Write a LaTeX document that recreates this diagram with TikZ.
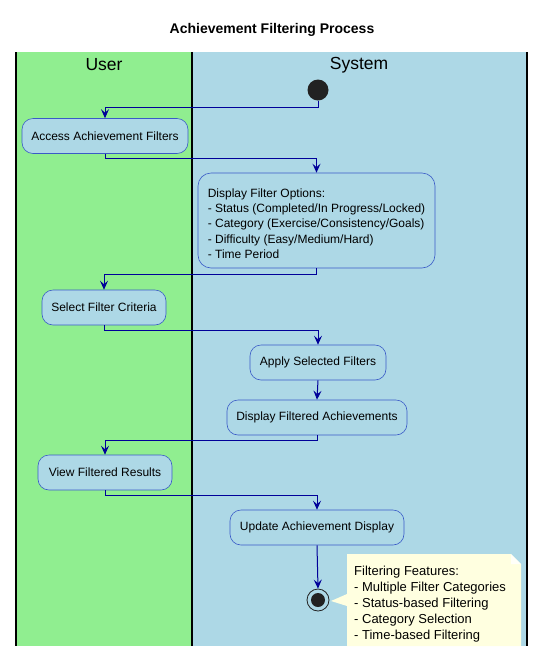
\documentclass[tikz,border=0pt]{standalone}
\usepackage{fontspec}
\setmainfont{Liberation Sans}
\usetikzlibrary{arrows.meta,calc}
\definecolor{userlane}{HTML}{90EE90}
\definecolor{syslane}{HTML}{ADD8E6}
\definecolor{boxborder}{HTML}{3A5BC7}
\definecolor{arrowcol}{HTML}{000099}
\definecolor{notefill}{HTML}{FFFFE0}
\definecolor{dotcol}{HTML}{222222}
\tikzset{
  act/.style={draw=boxborder, fill=syslane, rounded corners=11pt, minimum height=35pt,
    inner sep=0pt, font=\fontsize{12}{14}\selectfont, line width=0.6pt},
  arr/.style={draw=arrowcol, line width=1pt, -{Stealth[length=9pt,width=8pt,inset=3.5pt]}},
  lanehead/.style={font=\fontsize{17.5}{20}\selectfont},
  laneline/.style={line width=1.2pt, draw=black},
}
\begin{document}
\begin{tikzpicture}[x=1pt,y=-1pt]
\useasboundingbox (0,0) rectangle (544,657);
% lanes
\fill[userlane] (16,52) rectangle (192,646);
\fill[syslane] (192,52) rectangle (527,646);
\draw[laneline] (16,52) -- (16,646);
\draw[laneline] (192,52) -- (192,646);
\draw[laneline] (527,52) -- (527,646);
% title
\node[font=\bfseries\fontsize{14}{16}\selectfont] (title) at (272,30) {Achievement Filtering Process};
\node[lanehead] (userh) at (104,65) {User};
\node[lanehead] (sysh) at (359,65) {System};
% start
\node[circle, fill=dotcol, minimum size=21pt, inner sep=0pt] (start) at (318,90) {};
% activities
\node[act, minimum width=166pt] (access) at (105,136) {Access Achievement Filters};
\node[act, minimum width=237pt, minimum height=95pt, align=left, rounded corners=13pt,
  font=\fontsize{12}{15.3}\selectfont] (options) at (316.5,220.5)
  {\rule{0pt}{15pt}Display Filter Options:\\
   - Status (Completed/In Progress/Locked)\\
   - Category (Exercise/Consistency/Goals)\\
   - Difficulty (Easy/Medium/Hard)\\
   - Time Period};
\node[act, minimum width=124pt] (select) at (104,307.5) {Select Filter Criteria};
\node[act, minimum width=136pt] (apply) at (318,362.5) {Apply Selected Filters};
\node[act, minimum width=180pt] (dispfilt) at (317,417.5) {Display Filtered Achievements};
\node[act, minimum width=134pt] (view) at (105,472.5) {View Filtered Results};
\node[act, minimum width=174pt] (update) at (317,527.5) {Update Achievement Display};
% end
\node[circle, draw=dotcol, fill=syslane, line width=0.8pt, minimum size=22pt, inner sep=0pt] (stop) at (318,600) {};
\node[circle, fill=dotcol, minimum size=14pt, inner sep=0pt] (stopin) at (stop) {};
% note
\fill[notefill] (347,554) -- (511,554) -- (521,564) -- (521,646) -- (347,646) -- (347,606) -- (331,601) -- (347,594) -- cycle;
\fill[white!80!notefill] (511,554) -- (511,564) -- (521,564) -- cycle;
\node[anchor=north west, align=left, inner sep=0pt, font=\fontsize{13}{16}\selectfont] (note) at (354,565.5)
  {Filtering Features:\\
   - Multiple Filter Categories\\
   - Status-based Filtering\\
   - Category Selection\\
   - Time-based Filtering};
% connectors
\draw[arr] (start.south) -- ++(0,7) -| (access.north);
\draw[arr] (access.south) -- ++(0,5) -| (options.north);
\draw[arr] (options.south) -- ++(0,6) -| (select.north);
\draw[arr] (select.south) -- ++(0,5) -| (apply.north);
\draw[arr] (apply.south) -- (dispfilt.north);
\draw[arr] (dispfilt.south) -- ++(0,5) -| (view.north);
\draw[arr] (view.south) -- ++(0,5) -| (update.north);
\draw[arr] (update.south) -- (stop.north);
\end{tikzpicture}
\end{document}
